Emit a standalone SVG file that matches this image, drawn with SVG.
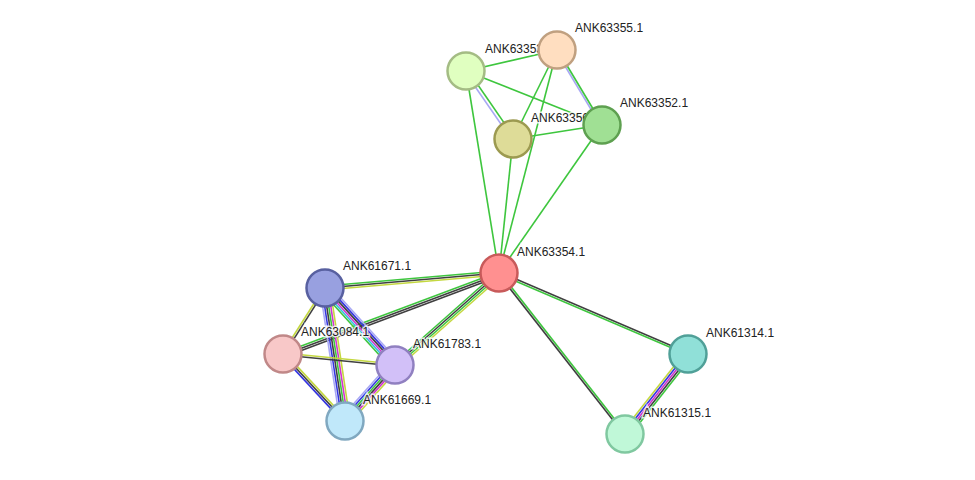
<svg xmlns="http://www.w3.org/2000/svg" width="975" height="480" viewBox="0 0 975 480">
<style>
line{stroke-width:1.6;fill:none}
.g{stroke:#3ec63e}.k{stroke:#404040}.y{stroke:#c4d840}.b{stroke:#3535e0}.m{stroke:#d035d0}.c{stroke:#35c0e0}.l{stroke:#a8a8f4}
circle{stroke-width:2.5}
text{font-family:"Liberation Sans",Arial,sans-serif;font-size:12px;fill:#222;paint-order:stroke;stroke:#fff;stroke-width:3px;stroke-opacity:0.8}
</style>
<rect width="975" height="480" fill="#fff"/>
<g id="edges">
<line class="g" x1="466" y1="71" x2="557" y2="50"/>
<line class="g" x1="466" y1="71" x2="602" y2="125"/>
<g><line class="l" x1="465" y1="72" x2="512" y2="140"/><line class="g" x1="467.6" y1="70" x2="514.6" y2="138"/></g>
<line class="g" x1="466" y1="71" x2="499" y2="273"/>
<line class="g" x1="557" y1="50" x2="513" y2="139"/>
<line class="g" x1="557" y1="50" x2="499" y2="273"/>
<g><line class="l" x1="556" y1="51" x2="601" y2="126"/><line class="g" x1="557.7" y1="50" x2="602.7" y2="125"/></g>
<line class="g" x1="513" y1="139" x2="602" y2="125"/>
<line class="g" x1="513" y1="139" x2="499" y2="273"/>
<line class="g" x1="602" y1="125" x2="499" y2="273"/>
<g><line class="g" x1="499" y1="271" x2="325" y2="286"/><line class="k" x1="499" y1="273" x2="325" y2="288"/><line class="y" x1="499" y1="275" x2="325" y2="290"/></g>
<g><line class="g" x1="498.6" y1="272" x2="282.6" y2="353"/><line class="k" x1="499.4" y1="274" x2="283.4" y2="355"/><line class="k" x1="500.1" y1="275.9" x2="284.1" y2="356.9"/></g>
<g><line class="g" x1="497.7" y1="271.5" x2="393.7" y2="363.5"/><line class="k" x1="499" y1="273" x2="395" y2="365"/><line class="g" x1="500.3" y1="274.5" x2="396.3" y2="366.5"/><line class="y" x1="501.6" y1="276" x2="397.6" y2="368"/></g>
<g><line class="k" x1="499.4" y1="272" x2="688.4" y2="353"/><line class="g" x1="498.6" y1="273.8" x2="687.6" y2="354.8"/></g>
<g><line class="g" x1="499.8" y1="272.4" x2="625.8" y2="433.4"/><line class="k" x1="498.2" y1="273.6" x2="624.2" y2="434.6"/></g>
<g><line class="y" x1="685.6" y1="351.6" x2="622.6" y2="431.6"/><line class="b" x1="687.2" y1="352.8" x2="624.2" y2="432.8"/><line class="m" x1="688.8" y1="354" x2="625.8" y2="434"/><line class="k" x1="690.4" y1="355.2" x2="627.4" y2="435.2"/><line class="g" x1="692" y1="356.4" x2="629" y2="436.4"/></g>
<g><line class="y" x1="324.2" y1="287.5" x2="282.2" y2="353.5"/><line class="k" x1="325.9" y1="288.6" x2="283.9" y2="354.6"/></g>
<g><line class="l" x1="328.8" y1="284.8" x2="398.8" y2="361.8"/><line class="b" x1="327.3" y1="286.1" x2="397.3" y2="363.1"/><line class="k" x1="325.8" y1="287.4" x2="395.8" y2="364.4"/><line class="m" x1="324.3" y1="288.7" x2="394.3" y2="365.7"/><line class="c" x1="322.8" y1="290" x2="392.8" y2="367"/><line class="g" x1="321.3" y1="291.3" x2="391.3" y2="368.3"/></g>
<g><line class="l" x1="320" y1="288.8" x2="340" y2="421.8"/><line class="b" x1="322" y1="288.5" x2="342" y2="421.5"/><line class="k" x1="324" y1="288.2" x2="344" y2="421.2"/><line class="g" x1="326" y1="287.9" x2="346" y2="420.9"/><line class="m" x1="328" y1="287.6" x2="348" y2="420.6"/><line class="y" x1="330" y1="287.3" x2="350" y2="420.3"/></g>
<g><line class="y" x1="283.2" y1="353" x2="395.2" y2="364"/><line class="k" x1="283" y1="355" x2="395" y2="366"/></g>
<g><line class="b" x1="281.5" y1="355.4" x2="343.5" y2="422.4"/><line class="k" x1="283" y1="354" x2="345" y2="421"/><line class="y" x1="284.5" y1="352.6" x2="346.5" y2="419.6"/></g>
<g><line class="l" x1="391.2" y1="361.7" x2="341.2" y2="417.7"/><line class="b" x1="392.7" y1="363" x2="342.7" y2="419"/><line class="g" x1="394.2" y1="364.3" x2="344.2" y2="420.3"/><line class="k" x1="395.7" y1="365.6" x2="345.7" y2="421.6"/><line class="m" x1="397.2" y1="366.9" x2="347.2" y2="422.9"/><line class="y" x1="398.7" y1="368.2" x2="348.7" y2="424.2"/></g>
</g>
<g id="labels-under"><text x="531" y="122">ANK63356.1</text></g>
<g id="ANK63354.1"><circle cx="499" cy="273" r="18.5" fill="#ff9090" stroke="#c85a5a"/><text x="517" y="256">ANK63354.1</text></g>
<g id="ANK63353.1"><circle cx="466" cy="71" r="18.5" fill="#e0ffc0" stroke="#a4bc84"/><text x="485" y="53">ANK63353.1</text></g>
<g id="ANK63355.1"><circle cx="557" cy="50" r="18.5" fill="#ffdec0" stroke="#c0a080"/><text x="575" y="32">ANK63355.1</text></g>
<g id="ANK63356.1"><circle cx="513" cy="139" r="18.5" fill="#dedc98" stroke="#9c9a50"/></g>
<g id="ANK63352.1"><circle cx="602" cy="125" r="18.5" fill="#a0e094" stroke="#5ea050"/><text x="620" y="107">ANK63352.1</text></g>
<g id="ANK61671.1"><circle cx="325" cy="288" r="18.5" fill="#98a0e0" stroke="#5860a0"/><text x="343" y="270">ANK61671.1</text></g>
<g id="ANK63084.1"><circle cx="283" cy="354" r="18.5" fill="#f8c8c8" stroke="#c08888"/><text x="301" y="336">ANK63084.1</text></g>
<g id="ANK61783.1"><circle cx="395" cy="365" r="18.5" fill="#d2c0f8" stroke="#9080c0"/><text x="413" y="348">ANK61783.1</text></g>
<g id="ANK61669.1"><circle cx="345" cy="421" r="18.5" fill="#c0e8fa" stroke="#80a8c0"/><text x="363" y="404">ANK61669.1</text></g>
<g id="ANK61314.1"><circle cx="688" cy="354" r="18.5" fill="#90e0d8" stroke="#50a098"/><text x="706" y="337">ANK61314.1</text></g>
<g id="ANK61315.1"><circle cx="625" cy="434" r="18.5" fill="#c0f8d8" stroke="#80c8a0"/><text x="643" y="417">ANK61315.1</text></g>
</svg>
